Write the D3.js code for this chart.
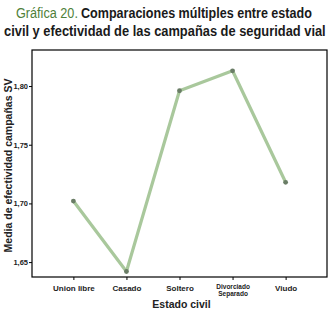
<!DOCTYPE html>
<html>
<head>
<meta charset="utf-8">
<script src="https://cdn.jsdelivr.net/npm/d3@7"></script>
<style>
  body { margin: 0; background: #fff; }
  svg { display: block; font-family: "Liberation Sans Narrow", "Liberation Sans", sans-serif; }
</style>
</head>
<body>
<div id="viz"></div>
<script>
const categories = ["Union libre", "Casado", "Soltero", "Divorciado|Separado", "Viudo"];
const means = [1.702, 1.642, 1.796, 1.813, 1.718];
const yTicks = [1.65, 1.70, 1.75, 1.80];

const width = 332;
const height = 314;
const margin = { left: 32, right: 5, top: 50, bottom: 37 };

const svg = d3.select("#viz").append("svg")
    .attr("width", width)
    .attr("height", height);

// title: squeeze each piece horizontally into the width it has in the picture
function fitText(x0, y0, w, txt, fill, weight) {
    const t = svg.append("text")
        .attr("font-size", 15.5)
        .attr("font-weight", weight)
        .attr("fill", fill)
        .text(txt);
    const s = w / t.node().getComputedTextLength();
    t.attr("transform", `translate(${x0},${y0}) scale(${s},1)`);
}
fitText(16, 18, 62, "Gráfica 20.", "#4f7f3a", 400);
fitText(81, 18, 231, "Comparaciones múltiples entre estado", "#1a1a1a", 700);
fitText(4, 36, 322, "civil y efectividad de las campañas de seguridad vial", "#1a1a1a", 700);

const x = d3.scalePoint()
    .domain(categories)
    .range([margin.left, width - margin.right])
    .padding(0.78);

const y = d3.scaleLinear()
    .domain([1.6373, 1.8307])
    .range([height - margin.bottom, margin.top]);

// frame
svg.append("rect")
    .attr("x", margin.left)
    .attr("y", margin.top)
    .attr("width", width - margin.left - margin.right)
    .attr("height", height - margin.top - margin.bottom)
    .attr("fill", "none")
    .attr("stroke", "#000")
    .attr("stroke-width", 1.2);

const fmt = d => d.toFixed(2).replace(".", ",");

const yAxis = svg.append("g")
    .attr("transform", `translate(${margin.left},0)`)
    .call(d3.axisLeft(y).tickValues(yTicks).tickFormat(fmt).tickSize(3).tickPadding(1));
yAxis.select(".domain").remove();
yAxis.selectAll("text").attr("font-size", 7.5).attr("font-weight", 700).attr("fill", "#222");

const xAxis = svg.append("g")
    .attr("transform", `translate(0,${height - margin.bottom})`)
    .call(d3.axisBottom(x).tickSize(3).tickFormat(""));
xAxis.select(".domain").remove();

xAxis.selectAll(".tick").each(function(d) {
    const parts = d.split("|");
    const t = d3.select(this).append("text")
        .attr("fill", "#222")
        .attr("font-weight", 700)
        .attr("text-anchor", "middle")
        .attr("font-size", parts.length > 1 ? 6.5 : 8);
    if (parts.length > 1) {
        parts.forEach((p, i) => t.append("tspan").attr("x", 0).attr("y", 12 + i * 6.5).text(p));
    } else {
        t.attr("y", 14).text(d);
    }
});

// axis titles
svg.append("text")
    .attr("x", (margin.left + width - margin.right) / 2 + 2)
    .attr("y", 308)
    .attr("text-anchor", "middle")
    .attr("font-weight", 700)
    .attr("font-size", 10.5)
    .attr("fill", "#222")
    .text("Estado civil");

svg.append("text")
    .attr("transform", `translate(12,${(margin.top + height - margin.bottom) / 2 + 2}) rotate(-90)`)
    .attr("text-anchor", "middle")
    .attr("font-weight", 700)
    .attr("font-size", 10.5)
    .attr("fill", "#222")
    .text("Media de efectividad campañas SV");

// line
const line = d3.line()
    .x((d, i) => x(categories[i]))
    .y(d => y(d));

svg.append("path")
    .datum(means)
    .attr("d", line)
    .attr("fill", "none")
    .attr("stroke", "#a9c89c")
    .attr("stroke-width", 3.2)
    .attr("stroke-linejoin", "round");

svg.selectAll(".pt")
    .data(means)
    .join("circle")
        .attr("class", "pt")
        .attr("cx", (d, i) => x(categories[i]))
        .attr("cy", d => y(d))
        .attr("r", 2.4)
        .attr("fill", "#6a7d66");
</script>
</body>
</html>
